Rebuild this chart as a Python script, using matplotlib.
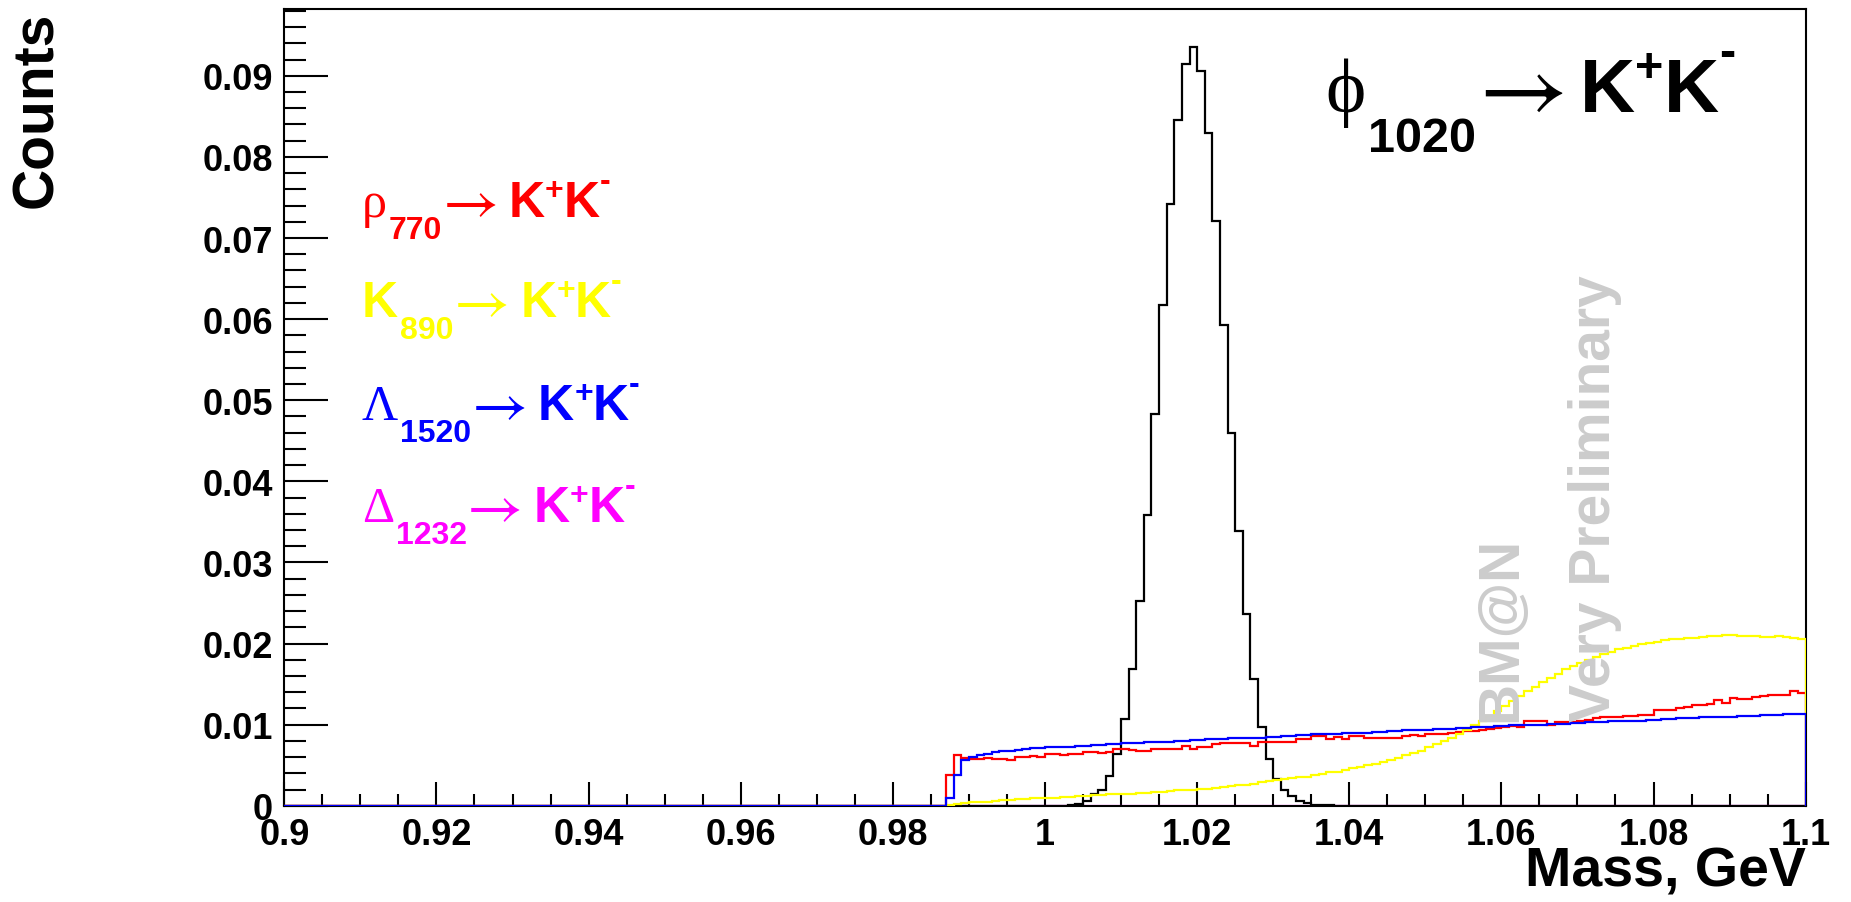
import matplotlib
matplotlib.use('Agg')
import matplotlib.pyplot as plt
from matplotlib.ticker import MultipleLocator, FuncFormatter
from matplotlib.transforms import IdentityTransform
import numpy as np

plt.rcParams['font.family'] = ['Liberation Sans', 'DejaVu Sans']
plt.rcParams['font.weight'] = 'bold'

# 200 bins of 1 MeV from 0.9 to 1.1 GeV
x_lo, x_hi, n_bins = 0.9, 1.1, 200

# phi(1020) -> K+K-, bins 103..137 non-zero
phi_vals = [0.0] * 103 + [
    0.0001, 0.0002, 0.0006, 0.0014, 0.0020, 0.0037, 0.0064, 0.0107, 0.0169, 0.0253,
    0.0359, 0.0483, 0.0617, 0.0742, 0.0846, 0.0915, 0.0935, 0.0906, 0.0829, 0.0721,
    0.0593, 0.0460, 0.0339, 0.0236, 0.0156, 0.0097, 0.0058, 0.0033, 0.0019, 0.0012,
    0.0006, 0.0003, 0.0001, 0.0001, 0.0001,
] + [0.0] * 62

# backgrounds start at the K+K- threshold, bin 87
rho_vals = [0.0] * 87 + [
    0.0038, 0.0062, 0.0059, 0.0058, 0.0058, 0.0059, 0.0058, 0.0058, 0.0056, 0.0060,
    0.0060, 0.0061, 0.0060, 0.0064, 0.0064, 0.0063, 0.0064, 0.0064, 0.0066, 0.0066,
    0.0065, 0.0066, 0.0070, 0.0070, 0.0069, 0.0067, 0.0067, 0.0070, 0.0070, 0.0070,
    0.0070, 0.0074, 0.0070, 0.0072, 0.0072, 0.0076, 0.0077, 0.0077, 0.0077, 0.0077,
    0.0074, 0.0078, 0.0078, 0.0078, 0.0078, 0.0078, 0.0082, 0.0082, 0.0086, 0.0086,
    0.0082, 0.0085, 0.0082, 0.0086, 0.0086, 0.0084, 0.0084, 0.0084, 0.0083, 0.0084,
    0.0086, 0.0087, 0.0086, 0.0088, 0.0089, 0.0089, 0.0090, 0.0091, 0.0092, 0.0092,
    0.0093, 0.0095, 0.0096, 0.0097, 0.0098, 0.0097, 0.0104, 0.0105, 0.0105, 0.0099,
    0.0103, 0.0103, 0.0103, 0.0105, 0.0106, 0.0108, 0.0109, 0.0110, 0.0110, 0.0111,
    0.0111, 0.0112, 0.0112, 0.0118, 0.0118, 0.0118, 0.0120, 0.0122, 0.0124, 0.0124,
    0.0126, 0.0130, 0.0127, 0.0133, 0.0131, 0.0131, 0.0134, 0.0135, 0.0136, 0.0137,
    0.0136, 0.0142, 0.0139,
]

k890_vals = [0.0] * 87 + [
    0.0001, 0.0002, 0.0003, 0.0004, 0.0005, 0.0005, 0.0006, 0.0007, 0.0007, 0.0008,
    0.0008, 0.0009, 0.0009, 0.0010, 0.0010, 0.0011, 0.0011, 0.0012, 0.0012, 0.0013,
    0.0013, 0.0014, 0.0014, 0.0015, 0.0015, 0.0016, 0.0016, 0.0017, 0.0017, 0.0018,
    0.0019, 0.0019, 0.0020, 0.0021, 0.0021, 0.0022, 0.0023, 0.0024, 0.0025, 0.0026,
    0.0027, 0.0029, 0.0030, 0.0032, 0.0033, 0.0034, 0.0035, 0.0036, 0.0038, 0.0039,
    0.0041, 0.0042, 0.0044, 0.0046, 0.0048, 0.0050, 0.0052, 0.0054, 0.0056, 0.0059,
    0.0062, 0.0065, 0.0068, 0.0072, 0.0076, 0.0080, 0.0084, 0.0089, 0.0094, 0.0099,
    0.0105, 0.0111, 0.0117, 0.0123, 0.0129, 0.0135, 0.0141, 0.0147, 0.0153, 0.0158,
    0.0163, 0.0168, 0.0172, 0.0176, 0.0180, 0.0184, 0.0187, 0.0190, 0.0193, 0.0195,
    0.0197, 0.0199, 0.0201, 0.0202, 0.0204, 0.0205, 0.0206, 0.0207, 0.0207, 0.0208,
    0.0209, 0.0209, 0.0210, 0.0210, 0.0209, 0.0209, 0.0209, 0.0208, 0.0208, 0.0209,
    0.0208, 0.0207, 0.0205,
]

lambda_vals = [0.0] * 87 + [
    0.0009, 0.0038, 0.0056, 0.0060, 0.0062, 0.0064, 0.0066, 0.0067, 0.0068, 0.0069,
    0.0070, 0.0071, 0.0071, 0.0072, 0.0072, 0.0073, 0.0073, 0.0074, 0.0074, 0.0075,
    0.0075, 0.0076, 0.0076, 0.0077, 0.0077, 0.0077, 0.0078, 0.0078, 0.0079, 0.0079,
    0.0080, 0.0080, 0.0081, 0.0081, 0.0082, 0.0082, 0.0082, 0.0083, 0.0083, 0.0084,
    0.0084, 0.0084, 0.0085, 0.0085, 0.0086, 0.0086, 0.0087, 0.0087, 0.0088, 0.0088,
    0.0089, 0.0089, 0.0090, 0.0090, 0.0090, 0.0090, 0.0091, 0.0091, 0.0092, 0.0092,
    0.0093, 0.0093, 0.0094, 0.0094, 0.0095, 0.0095, 0.0095, 0.0096, 0.0096, 0.0097,
    0.0097, 0.0097, 0.0098, 0.0098, 0.0099, 0.0099, 0.0099, 0.0100, 0.0100, 0.0101,
    0.0101, 0.0101, 0.0102, 0.0102, 0.0103, 0.0103, 0.0103, 0.0104, 0.0104, 0.0104,
    0.0105, 0.0105, 0.0106, 0.0106, 0.0107, 0.0107, 0.0108, 0.0108, 0.0108, 0.0109,
    0.0109, 0.0110, 0.0110, 0.0110, 0.0111, 0.0111, 0.0111, 0.0112, 0.0112, 0.0112,
    0.0113, 0.0113, 0.0113,
]

delta_vals = [0.0] * n_bins  # nothing survives for Delta(1232)

edges = np.linspace(x_lo, x_hi, n_bins + 1)

W, H = 1851, 903
fig = plt.figure(figsize=(W / 100, H / 100), dpi=100)
ax = fig.add_axes([0.1536, 0.1066, 0.8219, 0.882])

lw = 1.6
ax.stairs(delta_vals, edges, color='#ff00ff', linewidth=lw, zorder=2)
ax.stairs(phi_vals, edges, color='black', linewidth=lw, zorder=3)
ax.stairs(rho_vals, edges, color='#ff0000', linewidth=lw, zorder=3)
ax.stairs(k890_vals, edges, color='#ffff00', linewidth=lw, zorder=3)
ax.stairs(lambda_vals, edges, color='#0000ff', linewidth=lw, zorder=3)

ax.set_xlim(x_lo, x_hi)
ax.set_ylim(0, 0.0982)

ax.xaxis.set_major_locator(MultipleLocator(0.02))
ax.xaxis.set_minor_locator(MultipleLocator(0.005))
ax.yaxis.set_major_locator(MultipleLocator(0.01))
ax.yaxis.set_minor_locator(MultipleLocator(0.002))
fmt = FuncFormatter(lambda v, p: '%g' % round(v, 4))
ax.xaxis.set_major_formatter(fmt)
ax.yaxis.set_major_formatter(fmt)

ax.tick_params(axis='x', which='major', direction='in', length=17, width=1.5,
               labelsize=26, pad=8)
ax.tick_params(axis='x', which='minor', direction='in', length=8.6, width=1.5)
ax.tick_params(axis='y', which='major', direction='in', length=32, width=1.5,
               labelsize=26, pad=8)
ax.tick_params(axis='y', which='minor', direction='in', length=16, width=1.5)
for lab in ax.get_xticklabels() + ax.get_yticklabels():
    lab.set_fontweight('bold')
for sp in ax.spines.values():
    sp.set_linewidth(1.5)

fig.text(37.5 / W, 1 - 12 / H, 'Counts', rotation=90, ha='center', va='top',
         fontsize=41, fontweight='bold')
fig.text(1806 / W, 1 - 886.7 / H, 'Mass, GeV', ha='right', va='baseline',
         fontsize=40, fontweight='bold')

# watermark
grey = '#cccccc'
fig.text(1516.7 / W, 1 - 722 / H, 'BM@N', rotation=90, rotation_mode='anchor',
         ha='left', va='baseline', fontsize=41, fontweight='bold', color=grey, zorder=1)
fig.text(1610 / W, 1 - 722 / H, 'Very Preliminary', rotation=90, rotation_mode='anchor',
         ha='left', va='baseline', fontsize=41, fontweight='bold', color=grey, zorder=1)

# decay channel labels, ROOT-latex style: greek in serif, rest bold sans
SERIF = ['Liberation Serif', 'DejaVu Serif']
SANS = ['Liberation Sans', 'DejaVu Sans']
ARROW = ['STIXGeneral', 'DejaVu Serif']
renderer = fig.canvas.get_renderer()


def put_label(x, y, color, head, head_font, sub, big, small, arrow_pt,
              sub_drop, arrow_dy, plus_up, minus_up, gaps):
    # pieces: text, family, weight, size, vertical shift (px, up), gap after
    pieces = [
        (head, head_font[0], head_font[1], big, 0, gaps[0]),
        (sub, SANS, 'bold', small, -sub_drop, gaps[1]),
        ('\u2192', ARROW, 'normal', arrow_pt, arrow_dy, gaps[2]),
        ('K', SANS, 'bold', big, 0, 0),
        ('+', SANS, 'bold', small, plus_up, 0),
        ('K', SANS, 'bold', big, 0, 0),
        ('-', SANS, 'bold', small, minus_up, 0),
    ]
    for s, fam, wt, size, dy, gap in pieces:
        t = fig.text(x, H - y + dy, s, transform=IdentityTransform(), color=color,
                     family=fam, fontweight=wt, fontsize=size,
                     ha='left', va='baseline')
        x += t.get_window_extent(renderer).width + gap


small_labels = [
    ('\u03c1', (SERIF, 'normal'), '770', '#ff0000', 216.7),
    ('K', (SANS, 'bold'), '890', '#ffff00', 316.7),
    ('\u039b', (SERIF, 'normal'), '1520', '#0000ff', 420.0),
    ('\u0394', (SERIF, 'normal'), '1232', '#ff00ff', 521.7),
]
for head, hf, sub, col, yb in small_labels:
    put_label(362, yb, col, head, hf, sub, 36, 23, 44,
              sub_drop=22, arrow_dy=-3, plus_up=18, minus_up=27, gaps=(2, 0, 10))

put_label(1325, 111.7, 'black', '\u03d5', (SERIF, 'normal'), '1020', 55, 35, 70,
          sub_drop=40, arrow_dy=-6, plus_up=30, minus_up=45, gaps=(3, 2, 12))

fig.savefig('out.png', dpi=100)
plt.close(fig)
